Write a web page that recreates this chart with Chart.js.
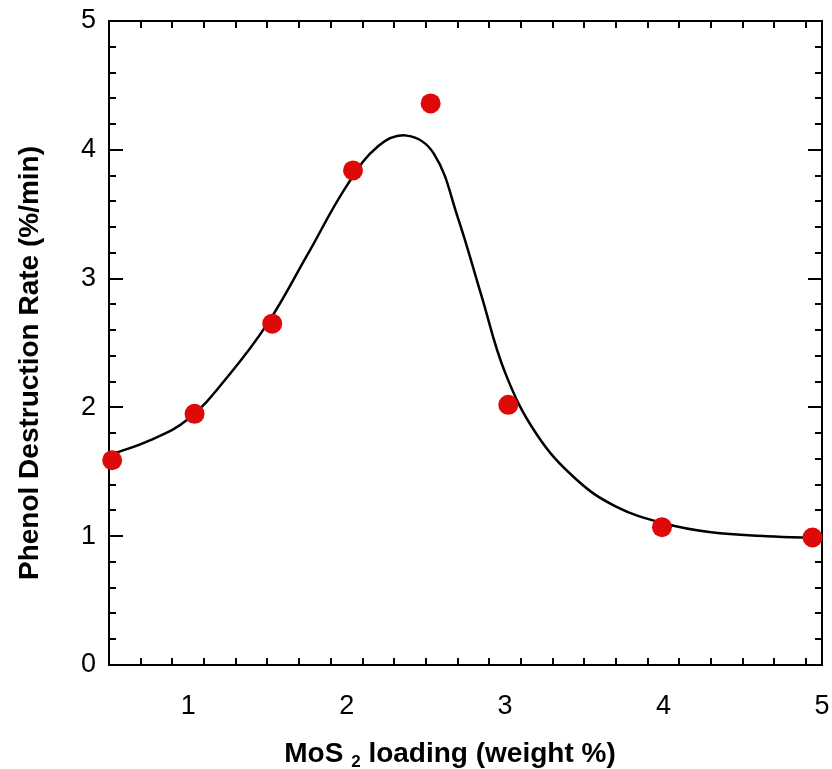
<!DOCTYPE html>
<html>
<head>
<meta charset="utf-8">
<script src="https://cdn.jsdelivr.net/npm/chart.js@4.4.1/dist/chart.umd.min.js"></script>
<style>
  html, body { margin: 0; padding: 0; background: #fff; }
  #wrap { width: 832px; height: 769px; }
</style>
</head>
<body>
<div id="wrap"><canvas id="chart" width="832" height="769"></canvas></div>
<script>
// measured rates vs. MoS2 loading
const loadingPct = [0.52, 1.04, 1.53, 2.04, 2.53, 3.02, 3.99, 4.94];
const destructionRate = [1.59, 1.95, 2.65, 3.84, 4.36, 2.02, 1.07, 0.99];

// smooth fit through the data
const fitLoading = [0.50, 0.75, 1.00, 1.25, 1.50, 1.75, 2.00, 2.20, 2.38, 2.55, 2.70, 2.85, 3.00, 3.20, 3.45, 3.70, 4.00, 4.30, 4.65, 5.00];
const fitRate    = [1.63, 1.74, 1.91, 2.24, 2.65, 3.18, 3.72, 4.03, 4.11, 3.97, 3.48, 2.87, 2.27, 1.79, 1.44, 1.23, 1.10, 1.03, 1.00, 0.985];

const xTickValues = [1, 2, 3, 4, 5];
const yTickValues = [0, 1, 2, 3, 4, 5];

const X_MIN = 0.5, X_MAX = 5, Y_MIN = 0, Y_MAX = 5;
const MINOR_STEP = 0.2;

const tickFont = { family: 'Liberation Sans, Arial, sans-serif', size: 27 };

const points = loadingPct.map((x, i) => ({ x: x, y: destructionRate[i] }));
const fit = fitLoading.map((x, i) => ({ x: x, y: fitRate[i] }));

// keep the plot box fixed: no extra padding from the tick labels
function fixBox(s, size) {
  if (s.isHorizontal()) s.height = size; else s.width = size;
  s.paddingLeft = s.paddingRight = s.paddingTop = s.paddingBottom = 0;
}

// box frame with inward ticks on all four sides
const framePlugin = {
  id: 'frame',
  beforeDatasetsDraw(chart) {
    const { ctx, chartArea: a, scales: { x, y } } = chart;
    ctx.save();
    ctx.strokeStyle = '#000';
    ctx.lineWidth = 2;
    ctx.lineCap = 'butt';
    ctx.strokeRect(a.left, a.top, a.right - a.left, a.bottom - a.top);

    const major = 14, minor = 7;
    ctx.beginPath();
    for (let v = X_MIN; v <= X_MAX + 1e-9; v += MINOR_STEP) {
      const isMajor = Math.abs(v - Math.round(v)) < 1e-6;
      const len = isMajor ? major : minor;
      const px = Math.round(x.getPixelForValue(v));
      ctx.moveTo(px, a.bottom); ctx.lineTo(px, a.bottom - len);
      ctx.moveTo(px, a.top); ctx.lineTo(px, a.top + len);
    }
    for (let v = Y_MIN; v <= Y_MAX + 1e-9; v += MINOR_STEP) {
      const isMajor = Math.abs(v - Math.round(v)) < 1e-6;
      const len = isMajor ? major : minor;
      const py = Math.round(y.getPixelForValue(v));
      ctx.moveTo(a.left, py); ctx.lineTo(a.left + len, py);
      ctx.moveTo(a.right, py); ctx.lineTo(a.right - len, py);
    }
    ctx.stroke();
    ctx.restore();
  }
};

// axis titles (x title needs a subscript)
const titlePlugin = {
  id: 'titles',
  afterDraw(chart) {
    const { ctx } = chart;
    ctx.save();
    ctx.fillStyle = '#000';
    ctx.textBaseline = 'alphabetic';

    const big = 'bold 28px Liberation Sans, Arial, sans-serif';
    const small = 'bold 17px Liberation Sans, Arial, sans-serif';
    const pre = 'MoS ', sub = '2', post = ' loading (weight %)';
    ctx.font = big;
    const wPre = ctx.measureText(pre).width;
    const wPost = ctx.measureText(post).width;
    ctx.font = small;
    const wSub = ctx.measureText(sub).width;
    const cx = 450, base = 762;
    let xPos = cx - (wPre + wSub + wPost) / 2;
    ctx.font = big;
    ctx.textAlign = 'left';
    ctx.fillText(pre, xPos, base);
    xPos += wPre;
    ctx.font = small;
    ctx.fillText(sub, xPos, base + 5);
    xPos += wSub;
    ctx.font = big;
    ctx.fillText(post, xPos, base);

    ctx.translate(38, 363);
    ctx.rotate(-Math.PI / 2);
    ctx.textAlign = 'center';
    ctx.font = big;
    ctx.fillText('Phenol Destruction Rate (%/min)', 0, 0);
    ctx.restore();
  }
};

new Chart(document.getElementById('chart'), {
  type: 'scatter',
  data: {
    datasets: [
      {
        type: 'scatter',
        data: points,
        backgroundColor: '#de0a0a',
        borderColor: '#de0a0a',
        borderWidth: 0,
        pointRadius: 10,
        pointHoverRadius: 10,
        clip: false
      },
      {
        type: 'line',
        data: fit,
        borderColor: '#000',
        borderWidth: 2.5,
        pointRadius: 0,
        fill: false,
        tension: 0.4,
        clip: false
      }
    ]
  },
  options: {
    responsive: false,
    animation: false,
    devicePixelRatio: 1,
    layout: { padding: { top: 21, right: 10, left: 0, bottom: 0 } },
    plugins: {
      legend: { display: false },
      tooltip: { enabled: false }
    },
    scales: {
      x: {
        type: 'linear',
        min: X_MIN,
        max: X_MAX,
        afterFit(s) { fixBox(s, 104); },
        afterBuildTicks(s) { s.ticks = xTickValues.map(v => ({ value: v })); },
        grid: { display: false, drawTicks: false },
        border: { display: false },
        ticks: { font: tickFont, color: '#000', padding: 25, maxRotation: 0 }
      },
      y: {
        type: 'linear',
        min: Y_MIN,
        max: Y_MAX,
        afterFit(s) { fixBox(s, 109); },
        afterBuildTicks(s) { s.ticks = yTickValues.map(v => ({ value: v })); },
        grid: { display: false, drawTicks: false },
        border: { display: false },
        ticks: { font: tickFont, color: '#000', padding: 13 }
      }
    }
  },
  plugins: [framePlugin, titlePlugin]
});
</script>
</body>
</html>
